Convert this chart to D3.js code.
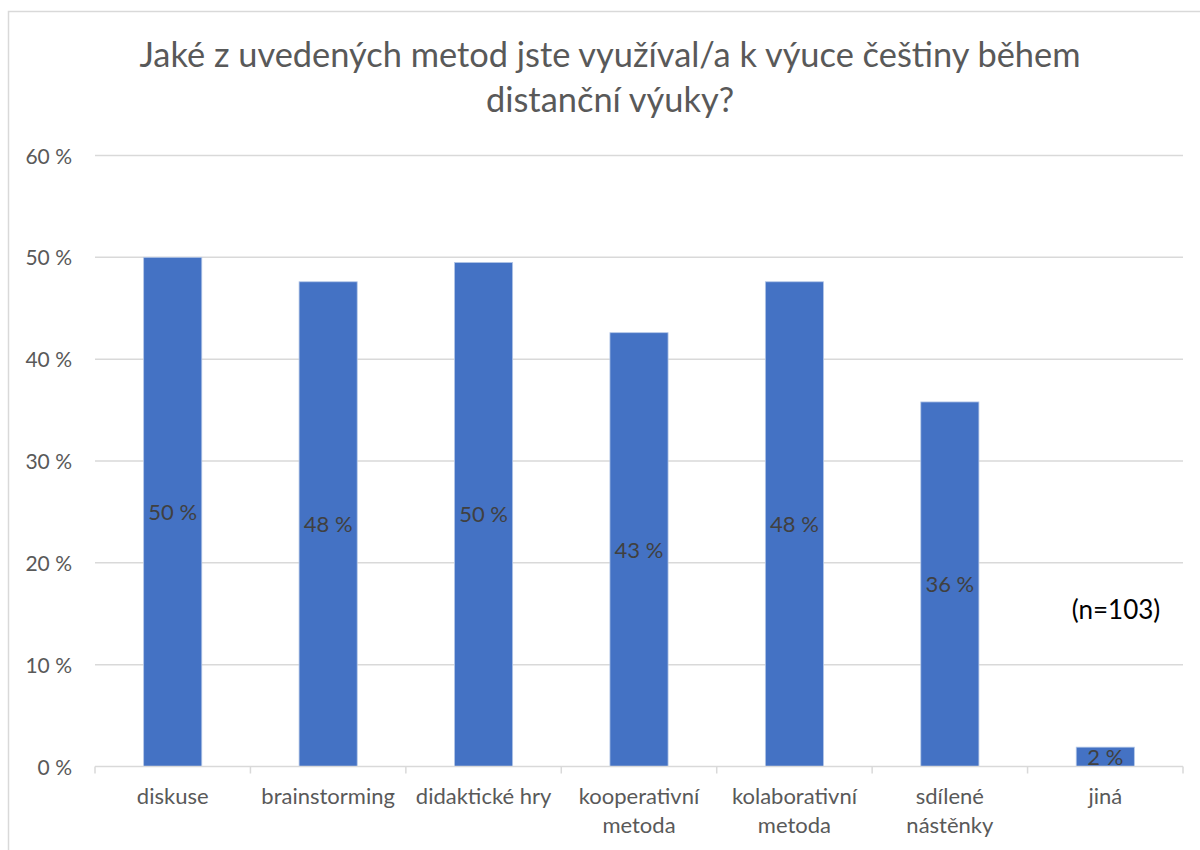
<!DOCTYPE html>
<html>
<head>
<meta charset="utf-8">
<script src="https://cdn.jsdelivr.net/npm/d3@7"></script>
<style>
  body { margin: 0; background: #fff; }
  svg { display: block; font-family: Lato, "Noto Sans", sans-serif; }
</style>
</head>
<body>
<div class="svg"></div>
<script>
var categories = ["diskuse", "brainstorming", "didaktické hry", "kooperativní metoda", "kolaborativní metoda", "sdílené nástěnky", "jiná"];
var values = [50.0, 47.6, 49.5, 42.6, 47.6, 35.8, 1.9];
var yTicks = [0, 10, 20, 30, 40, 50, 60];
var titleLines = ["Jaké z uvedených metod jste využíval/a k výuce češtiny během", "distanční výuky?"];
var note = "(n=103)";

var w = 1200;
var h = 850;
var margin = { top: 155.5, bottom: 83.5, left: 95, right: 17 };
var width = w - margin.left - margin.right;
var height = h - margin.top - margin.bottom;

var svg = d3.select(".svg").append("svg").attr("width", w).attr("height", h);

// chart frame
svg.append("rect")
   .attr("x", 8.5).attr("y", 11.5)
   .attr("width", 1210).attr("height", 860)
   .attr("fill", "#fff")
   .attr("stroke", "#d9d9d9")
   .attr("stroke-width", 1.5);

svg.selectAll(".title")
   .data(titleLines)
   .enter()
   .append("text")
   .attr("class", "title")
   .attr("x", 610)
   .attr("y", function(d, i) { return 67 + i * 45; })
   .attr("text-anchor", "middle")
   .attr("fill", "#595959")
   .style("font-size", "34.4px")
   .text(function(d) { return d; });

var chart = svg.append("g")
  .attr("transform", "translate(" + margin.left + "," + margin.top + ")");

var xScale = d3.scaleBand().domain(categories).range([0, width]).paddingInner(0.626).paddingOuter(0.313);
var bandScale = d3.scaleBand().domain(categories).range([0, width]);
var yScale = d3.scaleLinear().domain([0, 60]).range([height, 0]);

// gridlines
chart.selectAll(".grid")
     .data(yTicks.slice(1))
     .enter()
     .append("line")
     .attr("class", "grid")
     .attr("x1", 0).attr("x2", width)
     .attr("y1", function(d) { return yScale(d); })
     .attr("y2", function(d) { return yScale(d); })
     .attr("stroke", "#d9d9d9")
     .attr("stroke-width", 1.5);

// y axis labels
var yAxis = d3.axisLeft(yScale).tickValues(yTicks).tickSize(0).tickPadding(23)
  .tickFormat(function(d) { return d + " %"; });
var yG = chart.append("g").attr("class", "y axis").call(yAxis);
yG.select(".domain").remove();
yG.selectAll("text").attr("fill", "#595959").attr("dy", "0.36em")
  .style("font-size", "21px").style("font-family", "Lato, 'Noto Sans', sans-serif");

// bars
chart.selectAll(".bar")
     .data(values)
     .enter()
     .append("rect")
     .attr("class", "bar")
     .attr("x", function(d, i) { return xScale(categories[i]); })
     .attr("width", xScale.bandwidth())
     .attr("y", function(d) { return yScale(d); })
     .attr("height", function(d) { return height - yScale(d); })
     .attr("fill", "#4472c4")
     .attr("stroke", "#b4c7e7")
     .attr("stroke-width", 0.8);

// x axis line + ticks
chart.append("line")
     .attr("x1", 0).attr("x2", width)
     .attr("y1", height).attr("y2", height)
     .attr("stroke", "#d9d9d9").attr("stroke-width", 1.5);

var bounds = categories.map(function(c) { return bandScale(c); }).concat([width]);
chart.selectAll(".xtick")
     .data(bounds)
     .enter()
     .append("line")
     .attr("class", "xtick")
     .attr("x1", function(d) { return d; }).attr("x2", function(d) { return d; })
     .attr("y1", height).attr("y2", height + 7)
     .attr("stroke", "#d9d9d9").attr("stroke-width", 1.5);

// x labels (wrapped like the original)
var labelLines = [["diskuse"], ["brainstorming"], ["didaktické hry"], ["kooperativní", "metoda"], ["kolaborativní", "metoda"], ["sdílené", "nástěnky"], ["jiná"]];
var xl = chart.selectAll(".xlabel")
     .data(categories)
     .enter()
     .append("text")
     .attr("class", "xlabel")
     .attr("text-anchor", "middle")
     .attr("fill", "#595959")
     .style("font-size", "22px")
     .attr("transform", function(d) { return "translate(" + (bandScale(d) + bandScale.bandwidth() / 2) + "," + (height + 37) + ")"; });
xl.each(function(d, i) {
  var t = d3.select(this);
  labelLines[i].forEach(function(line, j) {
    t.append("tspan").attr("x", 0).attr("y", j * 29).text(line);
  });
});

// data labels
chart.selectAll(".dlabel")
     .data(values)
     .enter()
     .append("text")
     .attr("class", "dlabel")
     .attr("x", function(d, i) { return xScale(categories[i]) + xScale.bandwidth() / 2; })
     .attr("y", function(d) { return (yScale(d) + height) / 2 + 8; })
     .attr("text-anchor", "middle")
     .attr("fill", "#404040")
     .style("font-size", "22px")
     .text(function(d) { return Math.round(d) + " %"; });

svg.append("text")
   .attr("x", 1116)
   .attr("y", 619)
   .attr("text-anchor", "middle")
   .attr("fill", "#000")
   .style("font-size", "26px")
   .text(note);
</script>
</body>
</html>
